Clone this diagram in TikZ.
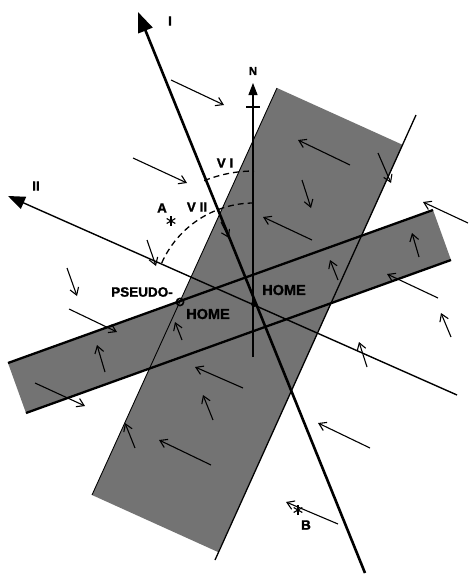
\documentclass[tikz,border=0pt]{standalone}
\usepackage{fontspec}
\setmainfont{Liberation Sans}[BoldFeatures={FakeBold=1.5}]
\usetikzlibrary{arrows.meta,calc}

\begin{document}
\begin{tikzpicture}[
  x=1pt, y=-1pt,
  font=\bfseries,
  band/.style={fill=black!55},
  thinedge/.style={line width=0.9pt},
  thickedge/.style={line width=2.3pt},
  axisone/.style={line width=2.6pt, -{Triangle[length=20pt,width=15pt]}},
  axistwo/.style={line width=1.4pt, -{Triangle[length=17pt,width=13pt]}},
  north/.style={line width=1.1pt, -{Triangle[length=12pt,width=9pt]}},
  angle/.style={line width=1.3pt, dash pattern=on 6pt off 4pt},
  flow/.style={line width=1.1pt, -{Straight Barb[length=7pt,width=9pt]}},
  star/.style={line width=1.1pt},
  lab/.style={font=\bfseries\fontsize{13.5}{13.5}\selectfont},
  biglab/.style={font=\bfseries\fontsize{14.5}{14.5}\selectfont},
  smalllab/.style={font=\bfseries\fontsize{11.5}{11.5}\selectfont}
]
\fill[white] (0,0) rectangle (469,576);
\useasboundingbox (0,0) rectangle (469,576);

% key points
\coordinate (home) at (254,304);
\coordinate (pseudo) at (180,302);
\coordinate (b1nw) at (277,88);
\coordinate (b1ne) at (403,145);
\coordinate (b1se) at (218,552);
\coordinate (b1sw) at (92,495);
\coordinate (r1top) at (416,115);
\coordinate (r1bot) at (215,560);
\coordinate (b2nw) at (8,363);
\coordinate (b2ne) at (433,210);
\coordinate (b2se) at (451,260);
\coordinate (b2sw) at (26,413);
\coordinate (Ibot) at (365,573);
\coordinate (Itip) at (138,12);
\coordinate (IIbot) at (457,395);
\coordinate (IItip) at (8,196);
\coordinate (Nbot) at (253,357);
\coordinate (Ntip) at (253,83);
\coordinate (A) at (171,221);
\coordinate (B) at (298,510);

% bands
\fill[band] (b1nw) -- (b1ne) -- (b1se) -- (b1sw) -- cycle;
\fill[band] (b2nw) -- (b2ne) -- (b2se) -- (b2sw) -- cycle;
\draw[thinedge] (b1nw) -- (b1sw);
\draw[line width=1.3pt] (r1top) -- (r1bot);
\draw[thickedge] (b2nw) -- (b2ne);
\draw[thickedge] (b2sw) -- (b2se);

% axes
\draw[north] (Nbot) -- (Ntip);
\draw[line width=1.1pt] (246,107) -- (260,107);
\draw[axistwo] (IIbot) -- (IItip);
\draw[axisone] (Ibot) -- (Itip);

% angles
\draw[angle] ($(home)+(248:133)$) arc[start angle=248, end angle=270, radius=133];
\draw[angle] ($(home)+(204:101)$) arc[start angle=204, end angle=270, radius=101];

% local flow
\foreach \xa/\ya/\xb/\yb in {171/80/224/105, 133/158/187/183, 350/165/298/140,
  378/153/391/183, 302/180/311/208, 147/240/156/266, 67/268/77/296,
  69/309/117/332, 105/372/97/345, 182/340/175/322, 243/388/195/367,
  312/240/263/217, 338/280/330/260, 419/257/412/233, 468/223/423/202,
  438/298/387/274, 451/337/441/313, 367/367/359/342, 35/383/85/406,
  213/420/203/395, 211/465/159/440, 135/448/125/423, 370/448/318/423,
  338/524/286/502, 221/222/229/238}
  \draw[flow] (\xa,\ya) -- (\xb,\yb);

% sites
\foreach \p in {A,B}
  \foreach \t in {90,30,150}
    \draw[star] ($(\p)+(\t:5)$) -- ($(\p)+(\t+180:5)$);

% homes
\fill (home) circle (3pt);
\draw[line width=1.6pt] (pseudo) circle (3.6pt);

% labels
\node[lab] (labI) at (170,21) {I};
\node[lab] (labII) at (36,186) {II};
\node[smalllab] (labN) at (253,71) {N};
\node[lab] (labVI) at (225,163) {V I};
\node[lab] (labVII) at (197,207) {V II};
\node[lab] (labA) at (162,208) {A};
\node[lab] (labB) at (306,525) {B};
\node[lab] (labpseudo) at (142,292) {PSEUDO-};
\node[biglab] (labpseudohome) at (208,314) {HOME};
\node[biglab] (labhome) at (284,290) {HOME};
\end{tikzpicture}
\end{document}
